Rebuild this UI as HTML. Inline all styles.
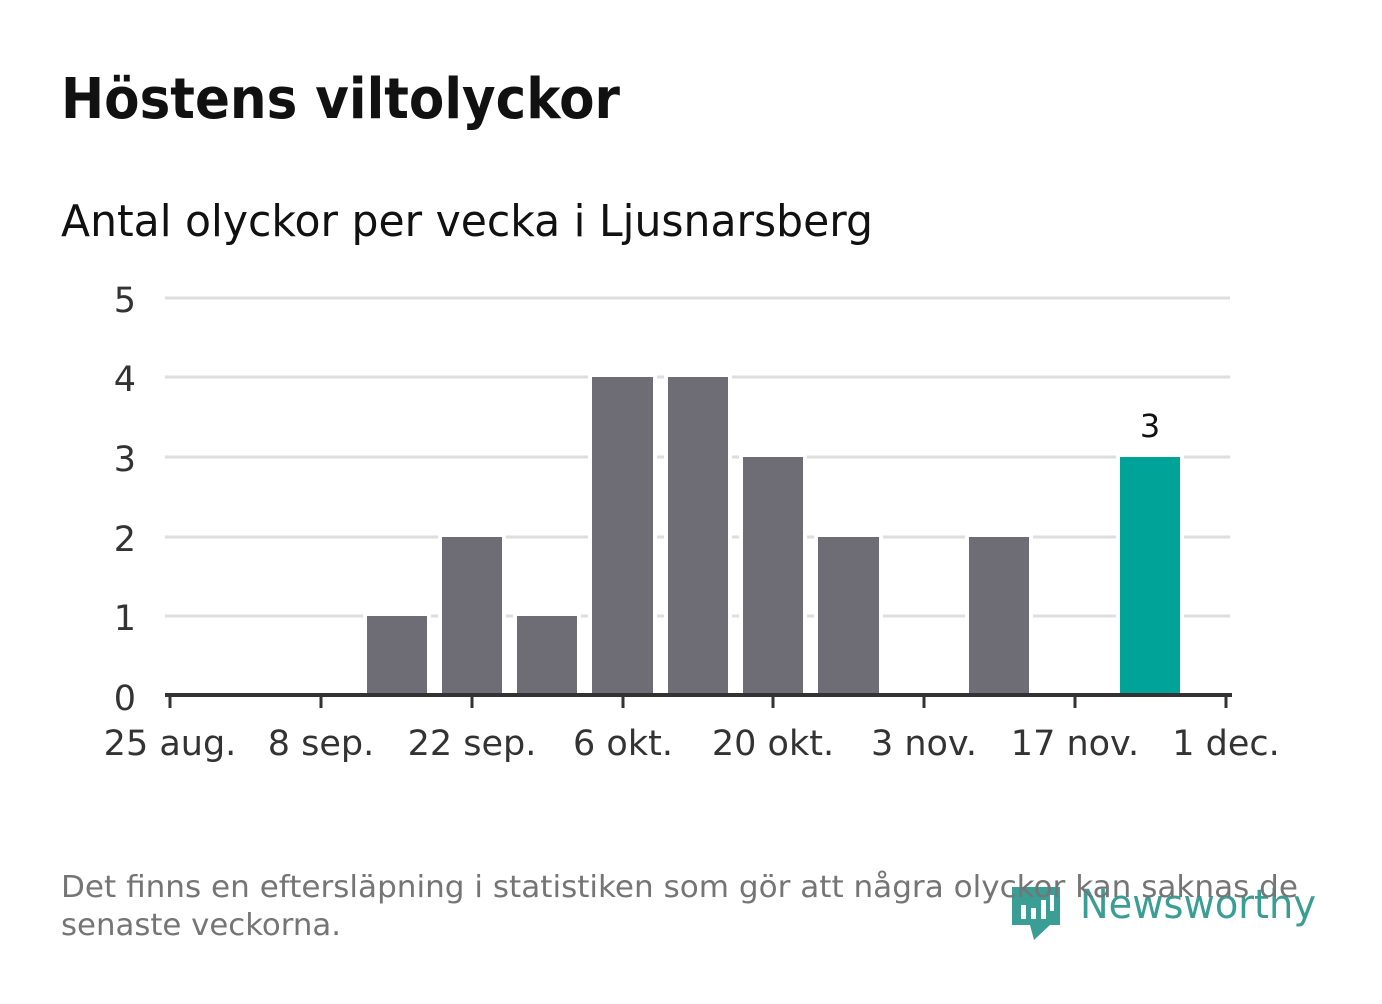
<!DOCTYPE html>
<html><head><meta charset="utf-8"><style>
body{margin:0;background:#fff;width:1382px;height:999px;overflow:hidden;font-family:"Liberation Sans","DejaVu Sans",sans-serif;}
</style></head><body>
<svg width="1382" height="999" xmlns="http://www.w3.org/2000/svg" font-family="'DejaVu Sans','Liberation Sans',sans-serif">
<text x="61" y="118" font-size="56" font-weight="bold" fill="#111" textLength="559" lengthAdjust="spacingAndGlyphs">Höstens viltolyckor</text>
<text x="61" y="236" font-size="44" fill="#111" textLength="812" lengthAdjust="spacingAndGlyphs">Antal olyckor per vecka i Ljusnarsberg</text>
<g stroke="#dedede" stroke-width="3">
<line x1="165" y1="298" x2="1230" y2="298"/>
<line x1="165" y1="377" x2="1230" y2="377"/>
<line x1="165" y1="457" x2="1230" y2="457"/>
<line x1="165" y1="537" x2="1230" y2="537"/>
<line x1="165" y1="616" x2="1230" y2="616"/>
</g>
<g font-size="35" fill="#333" text-anchor="end">
<text x="136" y="312">5</text><text x="136" y="391">4</text><text x="136" y="471">3</text>
<text x="136" y="551">2</text><text x="136" y="630">1</text><text x="136" y="710">0</text>
</g>
<g fill="#6e6d75" stroke="#fff" stroke-width="8" paint-order="stroke">
<rect x="367" y="616" width="60" height="79"/>
<rect x="442" y="537" width="60" height="158"/>
<rect x="517" y="616" width="60" height="79"/>
<rect x="592" y="377" width="61" height="318"/>
<rect x="668" y="377" width="60" height="318"/>
<rect x="743" y="457" width="60" height="238"/>
<rect x="818" y="537" width="61" height="158"/>
<rect x="969" y="537" width="60" height="158"/>
<rect x="1120" y="457" width="60" height="238" fill="#00a398"/>
</g>
<text x="1150" y="437" font-size="32" fill="#111" text-anchor="middle">3</text>
<line x1="165" y1="695" x2="1232" y2="695" stroke="#333" stroke-width="4"/>
<g stroke="#333" stroke-width="3">
<line x1="170" y1="695" x2="170" y2="708"/><line x1="321" y1="695" x2="321" y2="708"/>
<line x1="472" y1="695" x2="472" y2="708"/><line x1="623" y1="695" x2="623" y2="708"/>
<line x1="773" y1="695" x2="773" y2="708"/><line x1="924" y1="695" x2="924" y2="708"/>
<line x1="1075" y1="695" x2="1075" y2="708"/><line x1="1226" y1="695" x2="1226" y2="708"/>
</g>
<g font-size="35" fill="#333" text-anchor="middle">
<text x="170" y="755">25 aug.</text><text x="321" y="755">8 sep.</text><text x="472" y="755">22 sep.</text>
<text x="623" y="755">6 okt.</text><text x="773" y="755">20 okt.</text><text x="924" y="755">3 nov.</text>
<text x="1075" y="755">17 nov.</text><text x="1226" y="755">1 dec.</text>
</g>
<g fill="#3a9e95">
<path d="M1012 887 H1060 V925 H1050 L1034 940 L1030 925 H1012 Z"/>
<text x="1080" y="918" font-size="40" textLength="236" lengthAdjust="spacingAndGlyphs">Newsworthy</text>
</g>
<g fill="#fff"><rect x="1021" y="905" width="5" height="14"/><rect x="1031" y="908" width="5" height="11"/><rect x="1041" y="900" width="5" height="19"/><rect x="1050" y="895" width="4" height="16"/></g>
<g font-size="30" fill="#757575">
<text x="61" y="897" textLength="1237" lengthAdjust="spacingAndGlyphs">Det finns en eftersläpning i statistiken som gör att några olyckor kan saknas de</text>
<text x="61" y="935" textLength="280" lengthAdjust="spacingAndGlyphs">senaste veckorna.</text>
</g>
</svg>
</body></html>
